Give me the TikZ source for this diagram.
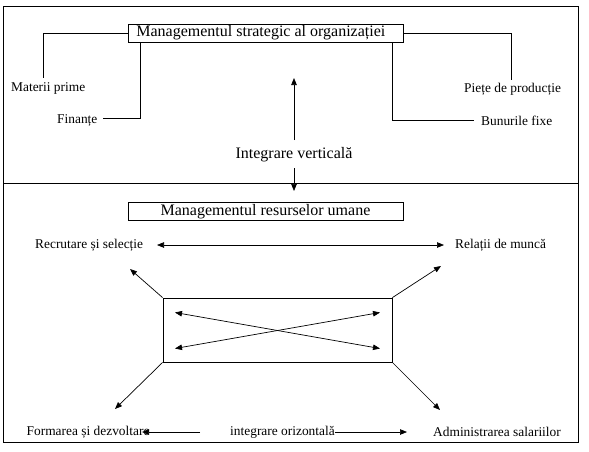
\documentclass[tikz,border=0pt]{standalone}
\usepackage{fontspec}
\setmainfont{Liberation Serif}
\usetikzlibrary{arrows.meta}
\begin{document}
\begin{tikzpicture}[x=1pt,y=-1pt,
  box/.style={draw,line width=0.8pt,rectangle,inner ysep=0pt,minimum height=18pt,font=\fontsize{16}{18}\selectfont},
  lbl/.style={inner sep=0pt,anchor=west,font=\fontsize{13.4}{15}\selectfont},
  big/.style={inner sep=0pt,font=\fontsize{16}{18}\selectfont},
  ln/.style={line width=0.7pt},
  arr/.style={line width=0.7pt,-{Triangle[length=7pt,width=5.5pt]}},
  darr/.style={line width=0.7pt,{Triangle[length=7pt,width=5.5pt]}-{Triangle[length=7pt,width=5.5pt]}}]
\useasboundingbox (0,0) rectangle (589,451);
% frame
\draw[line width=0.8pt] (3.5,6) rectangle (578,442);
\draw[line width=0.8pt] (3.5,183) -- (578,183);
% top part
\node[box,anchor=west,inner xsep=8pt] (top) at (128,33) {\makebox[259pt][l]{Managementul strategic al organizației}};
\node[lbl] (mp) at (11,88) {Materii prime};
\node[lbl] (fin) at (57,120) {Finanțe};
\node[lbl] (pp) at (464,89) {Piețe de producție};
\node[lbl] (bf) at (481,121) {Bunurile fixe};
\coordinate (mpt) at (43,78);
\coordinate (ppt) at (511,80);
\coordinate (fine) at (103,118);
\coordinate (bfw) at (474,120);
\draw[ln] (top.west) -| (mpt);
\draw[ln] (top.east) -| (ppt);
\draw[ln] (fine) -| (top.south -| 140,0);
\draw[ln] (top.south -| 392,0) |- (bfw);
\node[big] (iv) at (294,155) {Integrare verticală};
\coordinate (ivup) at (294,78);
\coordinate (ivdn) at (294,191);
\draw[arr] (294,140) -- (ivup);
\draw[arr] (294,168) -- (ivdn);
% bottom part
\node[box,minimum width=275pt,inner xsep=0pt] (hr) at (265.5,211.5) {Managementul resurselor umane};
\node[lbl] (rs) at (35,245) {Recrutare și selecție};
\node[lbl] (rm) at (455,245.5) {Relații de muncă};
\coordinate (rsa) at (157,245);
\coordinate (rma) at (444,245);
\draw[darr] (rsa) -- (rma);
\node[draw,line width=0.8pt,minimum width=229pt,minimum height=64pt,inner sep=0pt] (c) at (277.5,330) {};
\coordinate (tl) at (130,269);
\coordinate (tr) at (441,266);
\coordinate (bl) at (115,409);
\coordinate (br) at (440,410);
\draw[arr] (c.north west) -- (tl);
\draw[arr] (c.north east) -- (tr);
\draw[arr] (c.south west) -- (bl);
\draw[arr] (c.south east) -- (br);
\coordinate (a1) at (175,312.5);
\coordinate (a2) at (380,348.5);
\coordinate (a3) at (175,348.5);
\coordinate (a4) at (380,312.5);
\draw[darr] (a1) -- (a2);
\draw[darr] (a3) -- (a4);
\node[lbl] (fd) at (26.5,432) {Formarea și dezvoltare};
\node[lbl] (io) at (230,432) {integrare orizontală};
\node[lbl] (as) at (433,432) {Administrarea salariilor};
\coordinate (fda) at (142,432);
\coordinate (asa) at (407,432);
\draw[arr] (200,432) -- (fda);
\draw[arr] (io.east) -- (asa);
\end{tikzpicture}
\end{document}
